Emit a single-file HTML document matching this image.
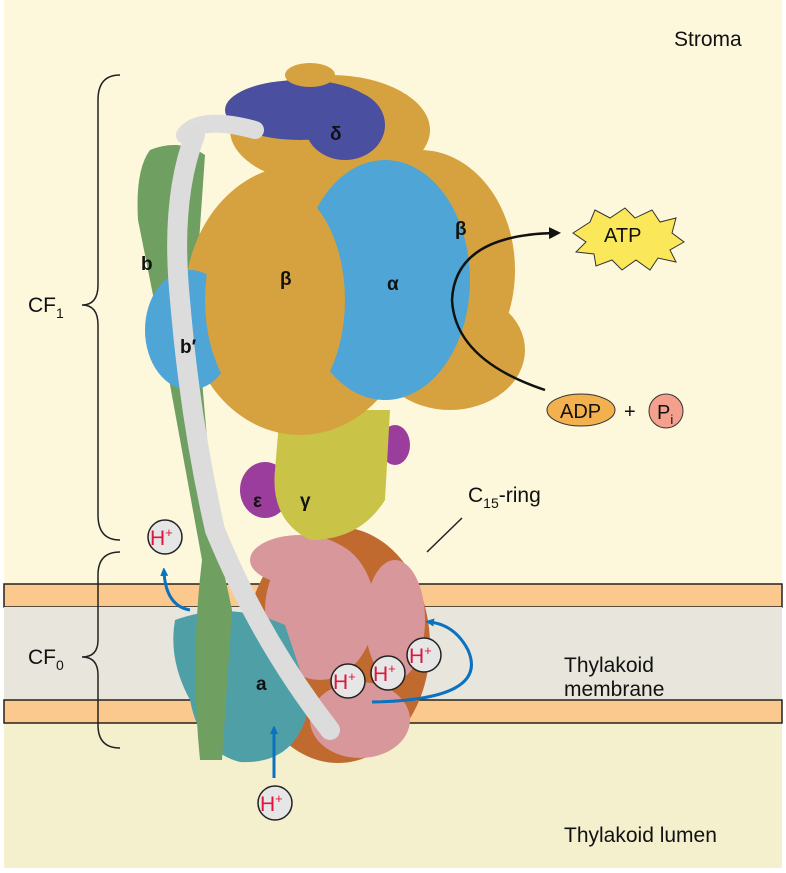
<!DOCTYPE html>
<html><head><meta charset="utf-8"><style>
html,body{margin:0;padding:0;background:#fff}
svg{display:block}
text{font-family:"Liberation Sans",sans-serif}
</style></head><body>
<svg width="786" height="873" viewBox="0 0 786 873" xmlns="http://www.w3.org/2000/svg">
<defs>
<marker id="bl" markerWidth="8" markerHeight="8" refX="4" refY="4" orient="auto" markerUnits="userSpaceOnUse"><path d="M0,0 L9,4 L0,8 Z" fill="#0a72c0"/></marker>
<marker id="bk" markerWidth="12" markerHeight="12" refX="6" refY="6" orient="auto" markerUnits="userSpaceOnUse"><path d="M0,0 L12,6 L0,12 Z" fill="#111"/></marker>
</defs>
<rect x="4" y="0" width="778" height="868" fill="#fdf8dc"/>
<rect x="4" y="722" width="778" height="146" fill="#f4efcd"/>
<rect x="4" y="584" width="778" height="23" fill="#fbc98e" stroke="#222" stroke-width="1.5"/>
<rect x="4" y="607" width="778" height="93" fill="#e8e6dc"/>
<rect x="4" y="700" width="778" height="23" fill="#fbc98e" stroke="#222" stroke-width="1.5"/>

<!-- ring -->
<ellipse cx="338" cy="645" rx="92" ry="118" fill="#c06a30"/>
<ellipse cx="320" cy="610" rx="55" ry="70" fill="#d8979b"/>
<ellipse cx="395" cy="620" rx="30" ry="60" fill="#d8979b"/>
<ellipse cx="360" cy="720" rx="50" ry="38" fill="#d8979b"/>
<ellipse cx="300" cy="560" rx="50" ry="25" fill="#d8979b"/>
<!-- a subunit -->
<path d="M175,620 Q230,600 285,625 L310,700 Q300,765 240,762 Q200,752 190,700 Q168,660 175,620Z" fill="#4fa0a6"/>
<!-- green b -->
<path d="M150,150 Q180,138 205,155 L195,300 L215,530 L232,610 L222,760 L200,760 Q190,660 202,560 L160,330 L138,220 Q135,170 150,150Z" fill="#6fa062"/>
<!-- purple epsilon -->
<ellipse cx="265" cy="490" rx="25" ry="28" fill="#9a3d9c"/>
<ellipse cx="395" cy="445" rx="15" ry="20" fill="#9a3d9c"/>
<!-- gamma -->
<path d="M280,410 L390,410 L385,500 Q360,540 310,540 Q270,520 275,470Z" fill="#c9c448"/>
<!-- head -->
<ellipse cx="330" cy="130" rx="100" ry="55" fill="#d6a23f"/>
<ellipse cx="300" cy="300" rx="115" ry="135" fill="#d6a23f"/>
<ellipse cx="420" cy="270" rx="95" ry="120" fill="#d6a23f"/>
<ellipse cx="450" cy="350" rx="75" ry="60" fill="#d6a23f"/>
<ellipse cx="385" cy="280" rx="85" ry="120" fill="#4ea5d6"/>
<ellipse cx="190" cy="330" rx="45" ry="60" fill="#4ea5d6"/>
<ellipse cx="275" cy="300" rx="70" ry="115" fill="#d6a23f"/>
<ellipse cx="300" cy="110" rx="75" ry="30" fill="#4b4fa0"/>
<ellipse cx="345" cy="125" rx="40" ry="35" fill="#4b4fa0"/>
<ellipse cx="310" cy="75" rx="25" ry="12" fill="#d6a23f"/>
<!-- white b' -->
<path d="M185,135 Q200,115 255,130" stroke="#ddd" stroke-width="18" fill="none" stroke-linecap="round"/>
<path d="M195,135 Q170,200 180,300 Q190,420 215,530 Q260,640 330,730" stroke="#dcdcdc" stroke-width="20" fill="none" stroke-linecap="round"/>

<!-- labels -->
<g font-size="19" font-weight="bold" fill="#111">
<text x="141" y="270">b</text>
<text x="180" y="353">b′</text>
<text x="330" y="140">δ</text>
<text x="455" y="235">β</text>
<text x="280" y="285">β</text>
<text x="387" y="290">α</text>
<text x="253" y="507">ε</text>
<text x="300" y="507">γ</text>
<text x="256" y="690">a</text>
</g>
<text x="674" y="46" font-size="21" fill="#111">Stroma</text>
<text x="564" y="672" font-size="21" fill="#111">Thylakoid</text>
<text x="564" y="696" font-size="21" fill="#111">membrane</text>
<text x="564" y="842" font-size="21" fill="#111">Thylakoid lumen</text>
<text x="468" y="502" font-size="21" fill="#111">C<tspan font-size="14" dy="6">15</tspan><tspan dy="-6">-ring</tspan></text>
<line x1="462" y1="518" x2="427" y2="552" stroke="#222" stroke-width="1.5"/>
<text x="28" y="312" font-size="21" fill="#111">CF<tspan font-size="14" dy="6">1</tspan></text>
<text x="28" y="664" font-size="21" fill="#111">CF<tspan font-size="14" dy="6">0</tspan></text>
<path d="M120,75 Q98,75 98,100 L98,285 Q98,305 82,305 Q98,305 98,325 L98,515 Q98,540 120,540" fill="none" stroke="#222" stroke-width="1.5"/>
<path d="M120,552 Q98,552 98,575 L98,640 Q98,657 82,657 Q98,657 98,675 L98,725 Q98,748 120,748" fill="none" stroke="#222" stroke-width="1.5"/>

<!-- ATP -->
<polygon points="573,233 590,222 595,210 610,218 625,208 635,218 652,210 660,222 676,218 672,233 684,242 670,250 676,262 658,258 650,270 636,260 622,270 612,260 596,266 594,254 576,252 586,242" fill="#fbe85a" stroke="#333" stroke-width="1"/>
<text x="604" y="242" font-size="20" fill="#111">ATP</text>
<path d="M545,390 Q455,360 452,300 Q455,235 555,233" fill="none" stroke="#111" stroke-width="2.5" marker-end="url(#bk)"/>
<ellipse cx="581" cy="410" rx="34" ry="16" fill="#f2b14e" stroke="#333"/>
<text x="560" y="418" font-size="20" fill="#111">ADP</text>
<text x="624" y="418" font-size="20" fill="#111">+</text>
<circle cx="666" cy="411" r="17" fill="#f4a08c" stroke="#333"/>
<text x="657" y="419" font-size="20" fill="#111">P<tspan font-size="13" dy="5">i</tspan></text>

<!-- H+ -->
<g font-size="21" fill="#e0143c">
<circle cx="165" cy="537" r="17" fill="#e6e6e6" stroke="#222" stroke-width="1.5"/><text x="150" y="545">H<tspan font-size="13" dy="-8">+</tspan></text>
<circle cx="348" cy="681" r="17" fill="#e6e6e6" stroke="#222" stroke-width="1.5"/><text x="333" y="689">H<tspan font-size="13" dy="-8">+</tspan></text>
<circle cx="388" cy="673" r="17" fill="#e6e6e6" stroke="#222" stroke-width="1.5"/><text x="373" y="681">H<tspan font-size="13" dy="-8">+</tspan></text>
<circle cx="424" cy="655" r="17" fill="#e6e6e6" stroke="#222" stroke-width="1.5"/><text x="409" y="663">H<tspan font-size="13" dy="-8">+</tspan></text>
<circle cx="275" cy="803" r="17" fill="#e6e6e6" stroke="#222" stroke-width="1.5"/><text x="260" y="811">H<tspan font-size="13" dy="-8">+</tspan></text>
</g>
<path d="M190,610 Q166,606 164,572" fill="none" stroke="#0a72c0" stroke-width="3" marker-end="url(#bl)"/>
<path d="M274,778 L274,730" fill="none" stroke="#0a72c0" stroke-width="3" marker-end="url(#bl)"/>
<path d="M372,702 Q490,700 468,650 Q455,625 430,622" fill="none" stroke="#0a72c0" stroke-width="3" marker-end="url(#bl)"/>
</svg>
</body></html>
